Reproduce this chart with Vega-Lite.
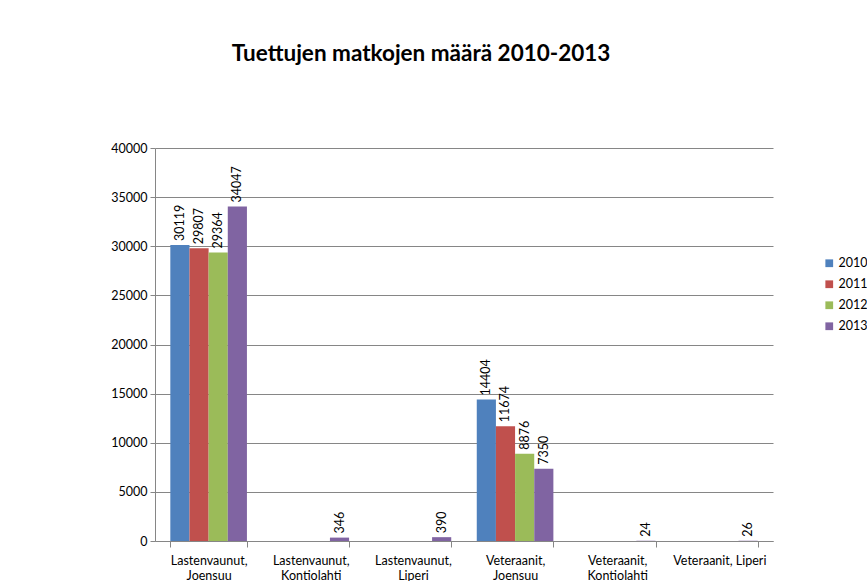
{
  "$schema": "https://vega.github.io/schema/vega-lite/v6.json",
  "autosize": "none",
  "width": 618,
  "height": 393,
  "padding": {"left": 155, "top": 148, "right": 94, "bottom": 40},
  "background": "white",
  "title": {
    "text": "Tuettujen matkojen määrä 2010-2013",
    "font": "Lato",
    "fontSize": 22.5,
    "fontWeight": "bold",
    "color": "#000000",
    "anchor": "middle",
    "dx": -43,
    "offset": 77
  },
  "data": {
    "values": [
      {"kohde": "Lastenvaunut, Joensuu", "vuosi": "2010", "matkat": 30119},
      {"kohde": "Lastenvaunut, Joensuu", "vuosi": "2011", "matkat": 29807},
      {"kohde": "Lastenvaunut, Joensuu", "vuosi": "2012", "matkat": 29364},
      {"kohde": "Lastenvaunut, Joensuu", "vuosi": "2013", "matkat": 34047},
      {"kohde": "Lastenvaunut, Kontiolahti", "vuosi": "2013", "matkat": 346},
      {"kohde": "Lastenvaunut, Liperi", "vuosi": "2013", "matkat": 390},
      {"kohde": "Veteraanit, Joensuu", "vuosi": "2010", "matkat": 14404},
      {"kohde": "Veteraanit, Joensuu", "vuosi": "2011", "matkat": 11674},
      {"kohde": "Veteraanit, Joensuu", "vuosi": "2012", "matkat": 8876},
      {"kohde": "Veteraanit, Joensuu", "vuosi": "2013", "matkat": 7350},
      {"kohde": "Veteraanit, Kontiolahti", "vuosi": "2013", "matkat": 24},
      {"kohde": "Veteraanit, Liperi", "vuosi": "2013", "matkat": 26}
    ]
  },
  "encoding": {
    "x": {
      "field": "kohde",
      "type": "nominal",
      "sort": null,
      "title": null,
      "scale": {"paddingInner": 0.25, "paddingOuter": 0.15},
      "axis": {
        "labelAngle": 0,
        "labelExpr": "!isString(datum.value) ? '' : (datum.value == 'Veteraanit, Liperi' ? datum.value : split(datum.value, ' '))",
        "labelFont": "Lato",
        "labelFontSize": 12.5,
        "labelColor": "#000000",
        "labelPadding": 7,
        "labelLineHeight": 15,
        "tickBand": "extent",
        "tickSize": 6,
        "tickColor": "#868686",
        "domainColor": "#868686"
      }
    },
    "xOffset": {"field": "vuosi", "type": "nominal", "scale": {"domain": ["2010", "2011", "2012", "2013"]}},
    "y": {
      "field": "matkat",
      "type": "quantitative",
      "title": null,
      "scale": {"domain": [0, 40000]},
      "axis": {
        "values": [0, 5000, 10000, 15000, 20000, 25000, 30000, 35000, 40000],
        "format": "d",
        "labelFont": "Lato",
        "labelFontSize": 12.5,
        "labelColor": "#000000",
        "gridColor": "#868686",
        "domainColor": "#868686",
        "tickColor": "#868686",
        "tickSize": 5,
        "labelPadding": 3
      }
    }
  },
  "layer": [
    {
      "mark": {"type": "bar"},
      "encoding": {
        "color": {
          "field": "vuosi",
          "type": "nominal",
          "scale": {"domain": ["2010", "2011", "2012", "2013"], "range": ["#4F81BD", "#C0504D", "#9BBB59", "#8064A2"]},
          "legend": {
            "title": null,
            "orient": "none",
            "legendX": 668,
            "legendY": 109,
            "symbolType": "square",
            "symbolSize": 60,
            "symbolStrokeWidth": 0,
            "labelFont": "Lato",
            "labelFontSize": 12.5,
            "labelColor": "#000000",
            "rowPadding": 8,
            "labelOffset": 3
          }
        }
      }
    },
    {
      "mark": {"type": "text", "angle": 270, "align": "left", "baseline": "middle", "dx": 4, "font": "Lato", "fontSize": 12.5, "color": "#000000"},
      "encoding": {"text": {"field": "matkat", "type": "quantitative", "format": "d"}}
    }
  ],
  "config": {"view": {"stroke": null}}
}
